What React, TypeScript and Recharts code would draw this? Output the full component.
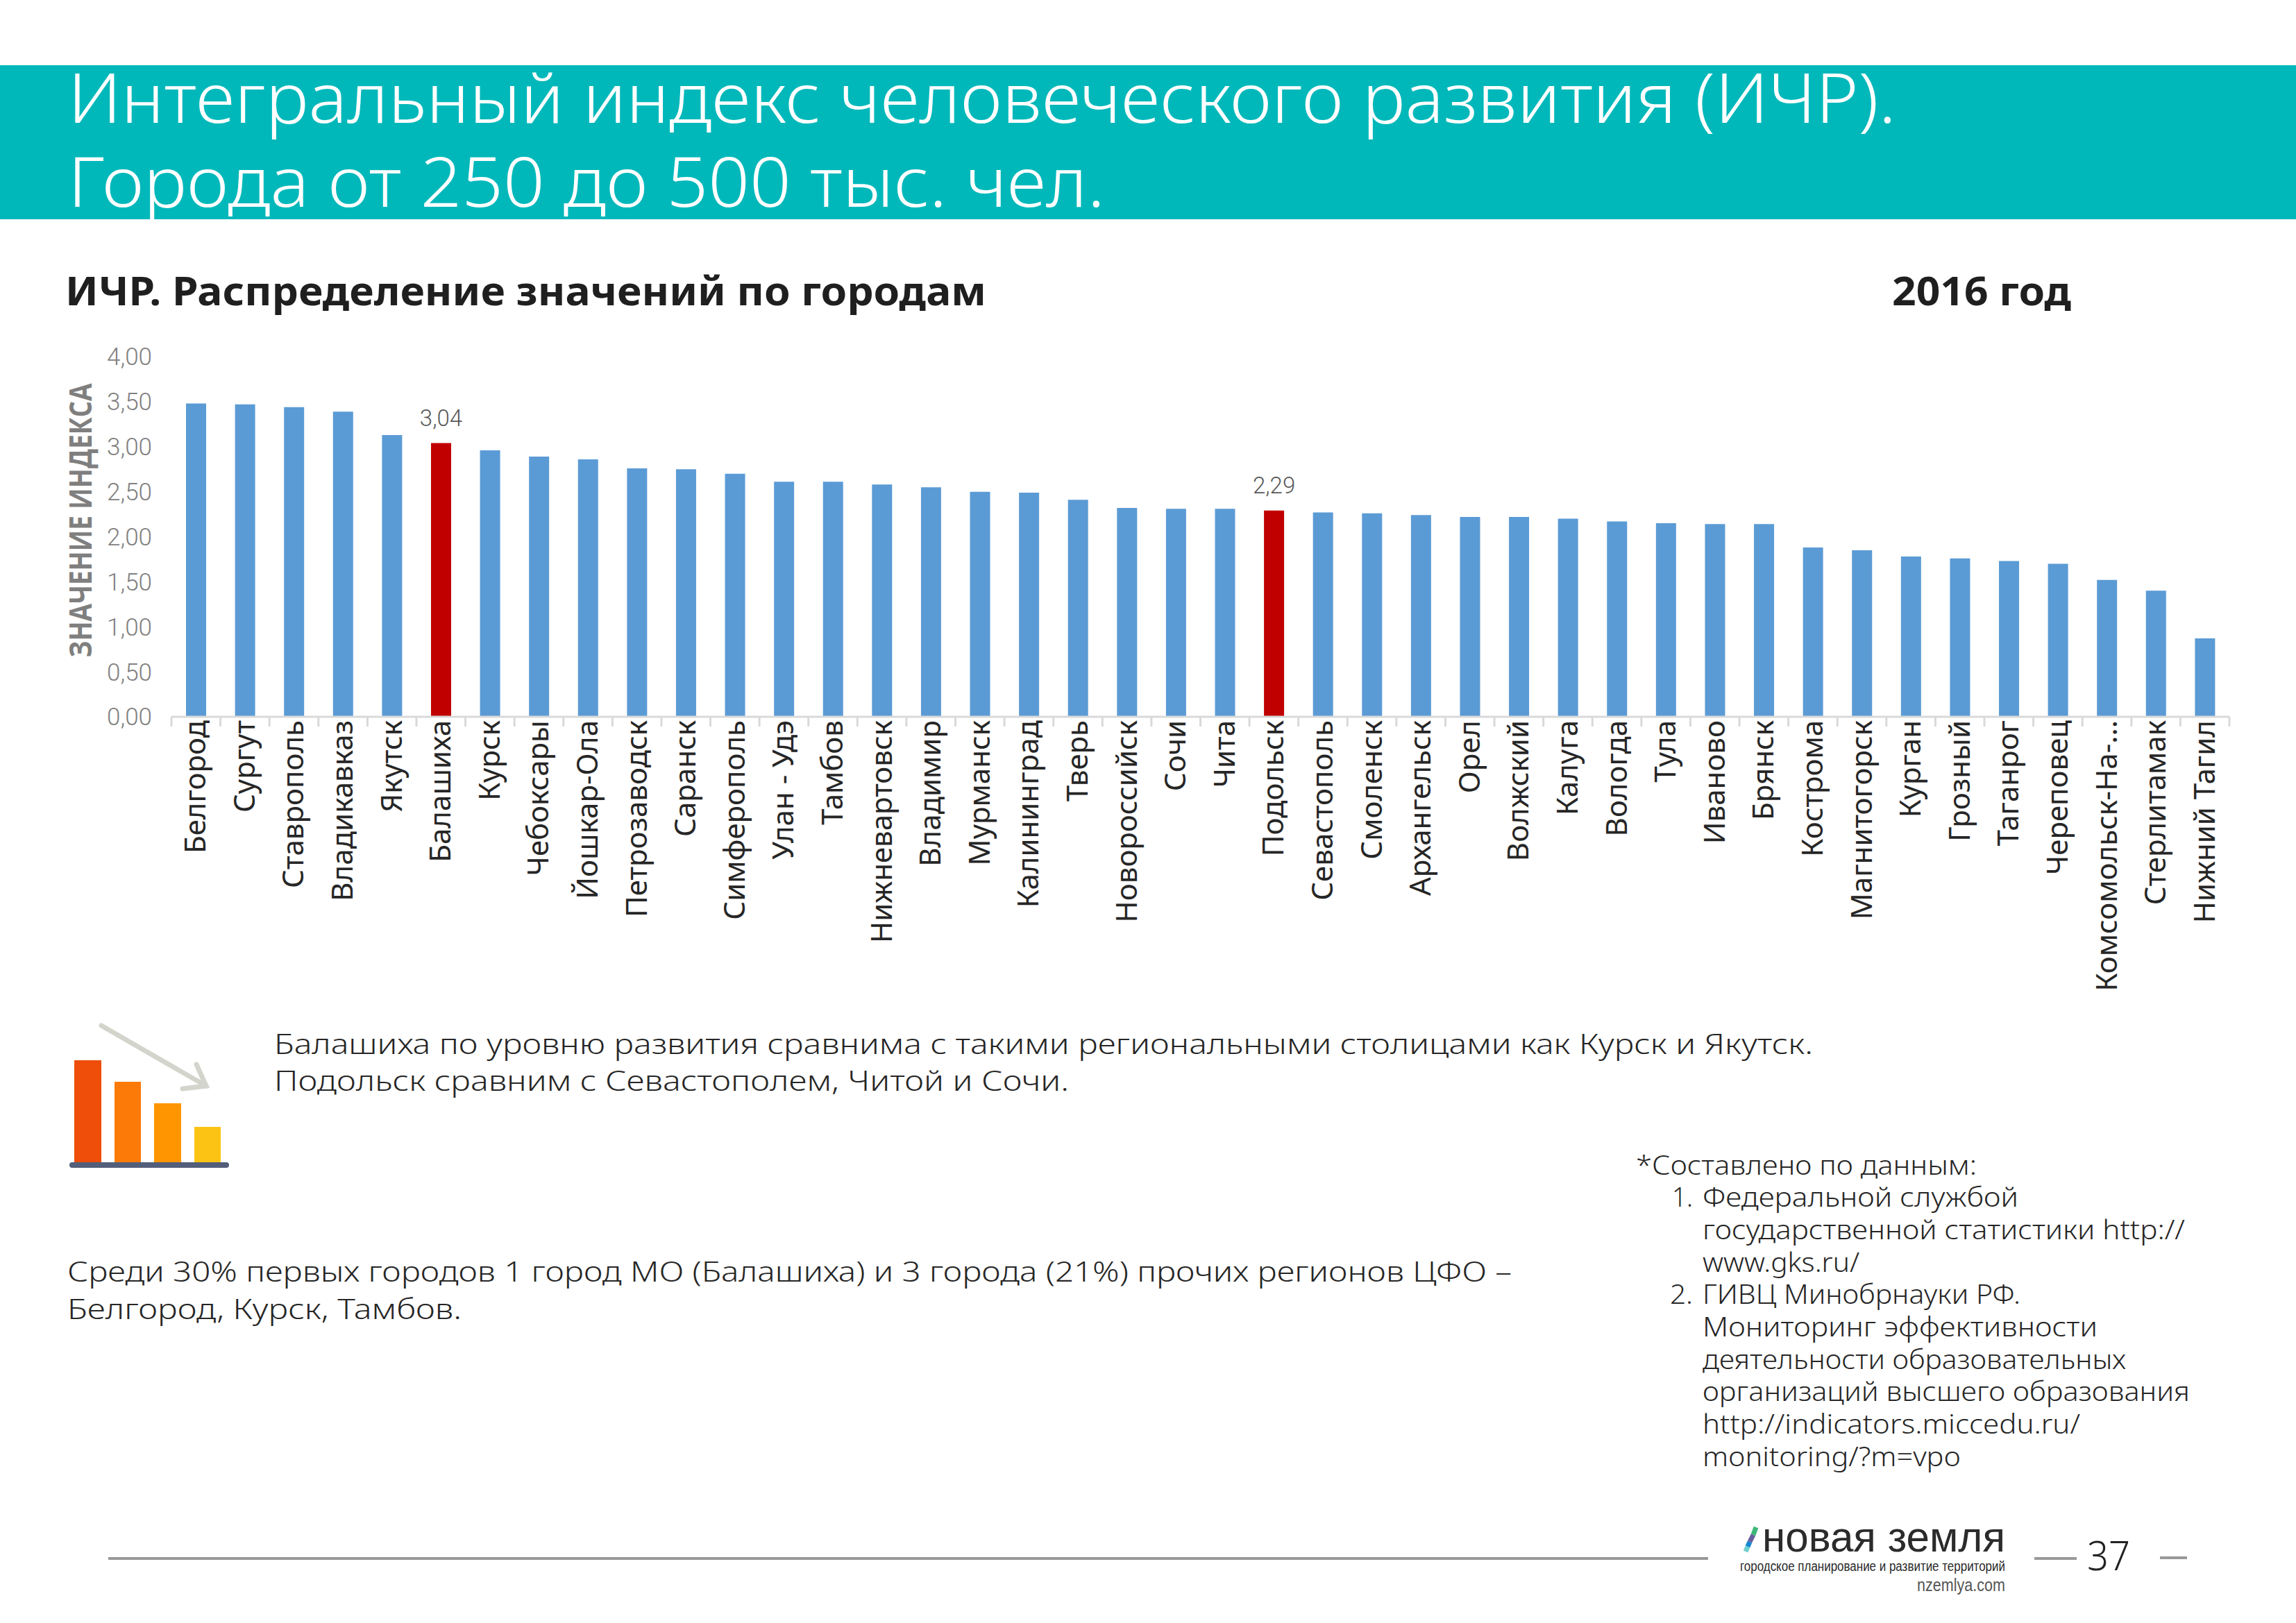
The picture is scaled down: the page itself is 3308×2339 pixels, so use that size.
import React from "react";
import { BarChart, Bar, Cell, XAxis, YAxis, LabelList, Label } from "recharts";

const cities = [
  "Белгород", "Сургут", "Ставрополь", "Владикавказ", "Якутск", "Балашиха", "Курск",
  "Чебоксары", "Йошкар-Ола", "Петрозаводск", "Саранск", "Симферополь", "Улан - Удэ",
  "Тамбов", "Нижневартовск", "Владимир", "Мурманск", "Калининград", "Тверь",
  "Новороссийск", "Сочи", "Чита", "Подольск", "Севастополь", "Смоленск", "Архангельск",
  "Орел", "Волжский", "Калуга", "Вологда", "Тула", "Иваново", "Брянск", "Кострома",
  "Магнитогорск", "Курган", "Грозный", "Таганрог", "Череповец", "Комсомольск-На-...",
  "Стерлитамак", "Нижний Тагил",
];
const hdi = [
  3.48, 3.47, 3.44, 3.39, 3.13, 3.04, 2.96, 2.89, 2.86, 2.76, 2.75, 2.7, 2.61, 2.61,
  2.58, 2.55, 2.5, 2.49, 2.41, 2.32, 2.31, 2.31, 2.29, 2.27, 2.26, 2.24, 2.22, 2.22,
  2.2, 2.17, 2.15, 2.14, 2.14, 1.88, 1.85, 1.78, 1.76, 1.73, 1.7, 1.52, 1.4, 0.87,
];
const highlighted = ["Балашиха", "Подольск"];
const yTicks = [0, 0.5, 1, 1.5, 2, 2.5, 3, 3.5, 4];

const chartData = cities.map((city, i) => ({ city, value: hdi[i] }));
const comma = (v: number) => v.toFixed(2).replace(".", ",");

const BODY = "'Noto Sans', sans-serif";
const BAND = 2965 / cities.length;

// Excel-style ticks sit between the categories, so they are drawn with the label
function CityTick({ x, y, payload, index }: any) {
  return (
    <g>
      <line x1={x - BAND / 2} x2={x - BAND / 2} y1={y} y2={y + 14} stroke="#d9d9d9" strokeWidth={3} />
      {index === cities.length - 1 && (
        <line x1={x + BAND / 2} x2={x + BAND / 2} y1={y} y2={y + 14} stroke="#d9d9d9" strokeWidth={3} />
      )}
      <text
        transform={`translate(${x + 14},${y + 5}) rotate(-90)`}
        textAnchor="end"
        fontFamily={BODY}
        fontSize={42}
        fill="#262626"
      >
        {payload.value}
      </text>
    </g>
  );
}

function ValueLabel({ x, y, width, value, index }: any) {
  if (!highlighted.includes(cities[index])) return null;
  return (
    <text x={x + width / 2} y={y - 25} textAnchor="middle" fontFamily="Roboto" fontWeight={300} fontSize={33} fill="#595959">
      {comma(value)}
    </text>
  );
}

function AxisTitle() {
  return (
    <text
      transform="translate(132,750) rotate(-90)"
      textAnchor="middle"
      textLength={395}
      lengthAdjust="spacingAndGlyphs"
      fontFamily="'Open Sans'"
      fontWeight={700}
      fontSize={44}
      fill="#7f7f7f"
    >
      ЗНАЧЕНИЕ ИНДЕКСА
    </text>
  );
}

function Line1({ x, y, w, size = 40, bold, fill = "#262626", children }: any) {
  return (
    <text
      x={x}
      y={y}
      textLength={w}
      lengthAdjust="spacingAndGlyphs"
      fontFamily={BODY}
      fontSize={size}
      fontWeight={bold ? 700 : 300}
      fill={fill}
    >
      {children}
    </text>
  );
}

function Slide() {
  return (
    <svg width={3308} height={2339} style={{ position: "absolute", left: 0, top: 0 }}>
      <rect x={0} y={94} width={3308} height={222} fill="#00b8ba" />
      <Line1 x={98} y={177} w={2634} size={100} fill="#fff">Интегральный индекс человеческого развития (ИЧР).</Line1>
      <Line1 x={98} y={298} w={1494} size={100} fill="#fff">Города от 250 до 500 тыс. чел.</Line1>

      <Line1 x={94} y={440} w={1327} size={58} bold fill="#1f1f1f">ИЧР. Распределение значений по городам</Line1>
      <Line1 x={2726} y={440} w={258} size={58} bold fill="#1f1f1f">2016 год</Line1>

      {/* иконка */}
      <rect x={107} y={1528} width={39} height={147} fill="#ee4d0a" />
      <rect x={165} y={1559} width={38} height={116} fill="#fb7a08" />
      <rect x={222} y={1590} width={39} height={85} fill="#ff9500" />
      <rect x={280} y={1624} width={38} height={51} fill="#fcc315" />
      <rect x={100} y={1675} width={230} height={8} rx={4} fill="#535e7a" />
      <g stroke="#d3d5cc" strokeWidth={7} strokeLinecap="round" fill="none">
        <path d="M146 1478 L297 1565" />
        <path d="M283 1534 L297 1565 L263 1569" />
      </g>

      <Line1 x={395} y={1519} w={2217}>Балашиха по уровню развития сравнима с такими региональными столицами как Курск и Якутск.</Line1>
      <Line1 x={395} y={1572} w={1145}>Подольск сравним с Севастополем, Читой и Сочи.</Line1>
      <Line1 x={97} y={1847} w={2081}>Среди 30% первых городов 1 город МО (Балашиха) и 3 города (21%) прочих регионов ЦФО –</Line1>
      <Line1 x={97} y={1901} w={568}>Белгород, Курск, Тамбов.</Line1>

      <Line1 x={2357} y={1693} w={491} size={38}>*Составлено по данным:</Line1>
      <Line1 x={2409} y={1739} w={30} size={38}>1.</Line1>
      <Line1 x={2453} y={1739} w={455} size={38}>Федеральной службой</Line1>
      <Line1 x={2453} y={1786} w={695} size={38}>государственной статистики http://</Line1>
      <Line1 x={2453} y={1833} w={226} size={38}>www.gks.ru/</Line1>
      <Line1 x={2406} y={1879} w={33} size={38}>2.</Line1>
      <Line1 x={2453} y={1879} w={458} size={38}>ГИВЦ Минобрнауки РФ.</Line1>
      <Line1 x={2453} y={1926} w={569} size={38}>Мониторинг эффективности</Line1>
      <Line1 x={2453} y={1973} w={610} size={38}>деятельности образовательных</Line1>
      <Line1 x={2453} y={2019} w={702} size={38}>организаций высшего образования</Line1>
      <Line1 x={2453} y={2066} w={544} size={38}>http://indicators.miccedu.ru/</Line1>
      <Line1 x={2453} y={2113} w={372} size={38}>monitoring/?m=vpo</Line1>

      {/* подвал */}
      <rect x={156} y={2244} width={2305} height={4} fill="#999" />
      <g strokeWidth={7}>
        <path d="M2530 2201 L2526 2212" stroke="#3cb878" />
        <path d="M2526 2212 L2521 2222" stroke="#6a5f9e" />
        <path d="M2521 2222 L2518 2229" stroke="#1487d0" />
        <path d="M2518 2229 L2515 2236" stroke="#6fd0d0" />
      </g>
      <text x={2539} y={2236} textLength={350} lengthAdjust="spacingAndGlyphs" fontFamily="'Liberation Sans'" fontSize={62} fill="#2b2b2b">новая земля</text>
      <text x={2507} y={2264} textLength={382} lengthAdjust="spacingAndGlyphs" fontFamily="'Liberation Sans'" fontSize={20} fill="#2b2b2b">городское планирование и развитие территорий</text>
      <text x={2762} y={2293} textLength={127} lengthAdjust="spacingAndGlyphs" fontFamily="'Liberation Sans'" fontSize={25} fill="#555">nzemlya.com</text>
      <rect x={2931} y={2244} width={61} height={4} fill="#999" />
      <text x={3007} y={2263} textLength={62} lengthAdjust="spacingAndGlyphs" fontFamily={BODY} fontWeight={300} fontSize={58} fill="#222">37</text>
      <rect x={3112} y={2243} width={39} height={4} fill="#999" />
    </svg>
  );
}

export default function App() {
  return (
    <div style={{ position: "absolute", left: 0, top: 0, width: 3308, height: 2339, background: "#fff", overflow: "hidden" }}>
      <Slide />
      <div style={{ position: "absolute", left: 0, top: 0 }}>
        <BarChart
          width={3308}
          height={1500}
          data={chartData}
          barSize={29}
          margin={{ top: 514, right: 96, bottom: 0, left: 127 }}
        >
          <XAxis
            dataKey="city"
            interval={0}
            height={467}
            tick={<CityTick />}
            tickSize={0}
            tickMargin={0}
            tickLine={false}
            axisLine={{ stroke: "#d9d9d9", strokeWidth: 3 }}
          />
          <YAxis
            width={120}
            domain={[0, 4]}
            ticks={yTicks}
            tickFormatter={comma}
            tickSize={0}
            tickMargin={28}
            axisLine={false}
            tick={{ fontFamily: "Roboto", fontWeight: 300, fontSize: 35, fill: "#808080" }}
          >
            <Label content={<AxisTitle />} />
          </YAxis>
          <Bar dataKey="value" isAnimationActive={false}>
            {chartData.map((d) => (
              <Cell key={d.city} fill={highlighted.includes(d.city) ? "#c00000" : "#5b9bd5"} />
            ))}
            <LabelList dataKey="value" content={<ValueLabel />} />
          </Bar>
        </BarChart>
      </div>
    </div>
  );
}
